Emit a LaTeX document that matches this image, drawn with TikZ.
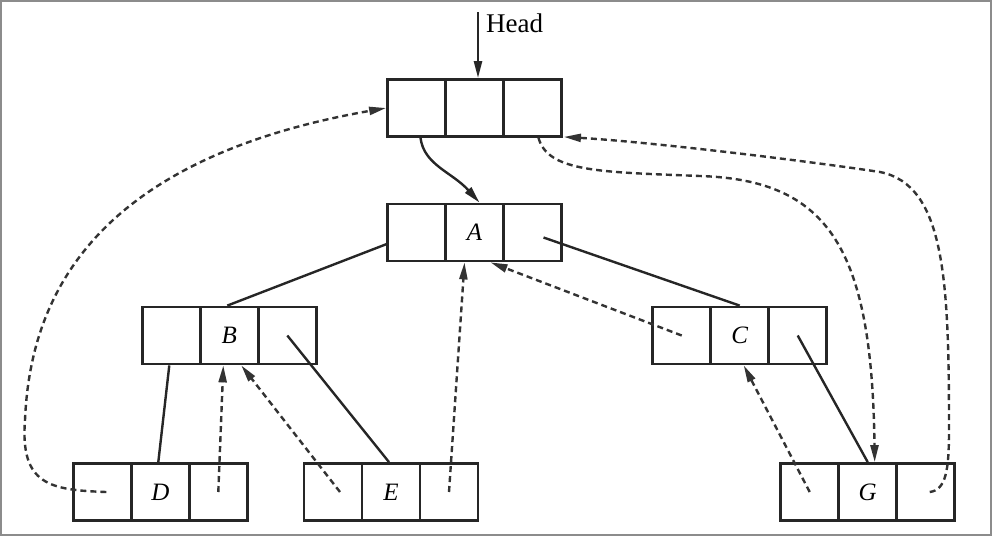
\documentclass[tikz,border=0pt]{standalone}
\usepackage{fontspec}
\setmainfont{Liberation Serif}
\usetikzlibrary{arrows.meta,calc}
\newcommand\tribox[4]{%
  \node[cell] (#1l) at (#2-58,#3) {};
  \node[cell] (#1m) at (#2,#3) {#4};
  \node[cell] (#1r) at (#2+58,#3) {};}
\begin{document}
\begin{tikzpicture}[x=1pt,y=-1pt,
  cell/.style={draw=black!85,line width=2.8pt,minimum width=58pt,minimum height=57pt,inner sep=0pt,font=\fontsize{25}{28}\selectfont\itshape},
  link/.style={line width=2.4pt,draw=black!85},
  ptr/.style={link,-{Triangle[length=17pt,width=8pt]}},
  thread/.style={line width=2.4pt,draw=black!80,dash pattern=on 6pt off 4pt,-{Triangle[length=17pt,width=8pt]}},
  lbl/.style={font=\fontsize{27}{30}\selectfont,inner sep=0pt,anchor=base west}]
\draw[black!45,line width=2pt] (1,1) rectangle (991,535);
\useasboundingbox (0,0) rectangle (992,536);
% boxes
\tribox{H}{474.5}{108}{}
\tribox{A}{474.5}{232.5}{A}
\tribox{B}{229.3}{335.5}{B}
\tribox{C}{739.7}{335.5}{C}
\tribox{D}{160.3}{492}{D}
\tribox{E}{391}{492}{E}
\tribox{G}{867.7}{492}{G}
% head
\node[lbl] (head) at (486,32) {Head};
\coordinate (htop) at (478,12);
\draw[ptr] (htop) -- ($(Hm.north)+(3.5,0)$);
% tree links
\draw[ptr] ($(Hl.south)+(4,0)$) .. controls (424,165) and (452,172) .. ($(Am.north)+(5,0)$);
\draw[link] ($(Al.west)+(2,11)$) -- ($(Bm.north)+(-2,0)$);
\draw[link] ($(Ar.center)+(11,5)$) -- (Cm.north);
\draw[link] ($(Bl.south)+(-2,0)$) -- ($(Dm.north)+(-2,0)$);
\draw[link] (Br.center) -- ($(Em.north)+(-2,0)$);
\draw[link] (Cr.center) -- (Gm.north);
% threads
\draw[thread] ($(Dl.center)+(4,0)$) .. controls (50,490) and (20,485) .. (25,420)
   .. controls (30,300) and (90,160) .. (Hl.west);
\draw[thread] (Dr.center) -- ($(Bm.south)+(-6,0)$);
\draw[thread] ($(El.center)+(7,0)$) -- ($(Bm.south)+(12,0)$);
\draw[thread] (Er.center) -- ($(Am.south)+(-10,0)$);
\draw[thread] (Cl.center) -- ($(Am.south)+(16,0)$);
\draw[thread] (Gl.center) -- ($(Cm.south)+(4,0)$);
\draw[thread] ($(Hr.south)+(6,0)$) .. controls (548,172) and (600,172) .. (700,176)
   .. controls (830,180) and (872,250) .. ($(Gm.north)+(7,0)$);
\draw[thread] ($(Gr.center)+(4,0)$) .. controls (946,490) and (949,470) .. (949,430)
   .. controls (949,280) and (945,185) .. (880,172)
   .. controls (800,160) and (650,142) .. ($(Hr.south east)+(1,-1)$);
\end{tikzpicture}
\end{document}
